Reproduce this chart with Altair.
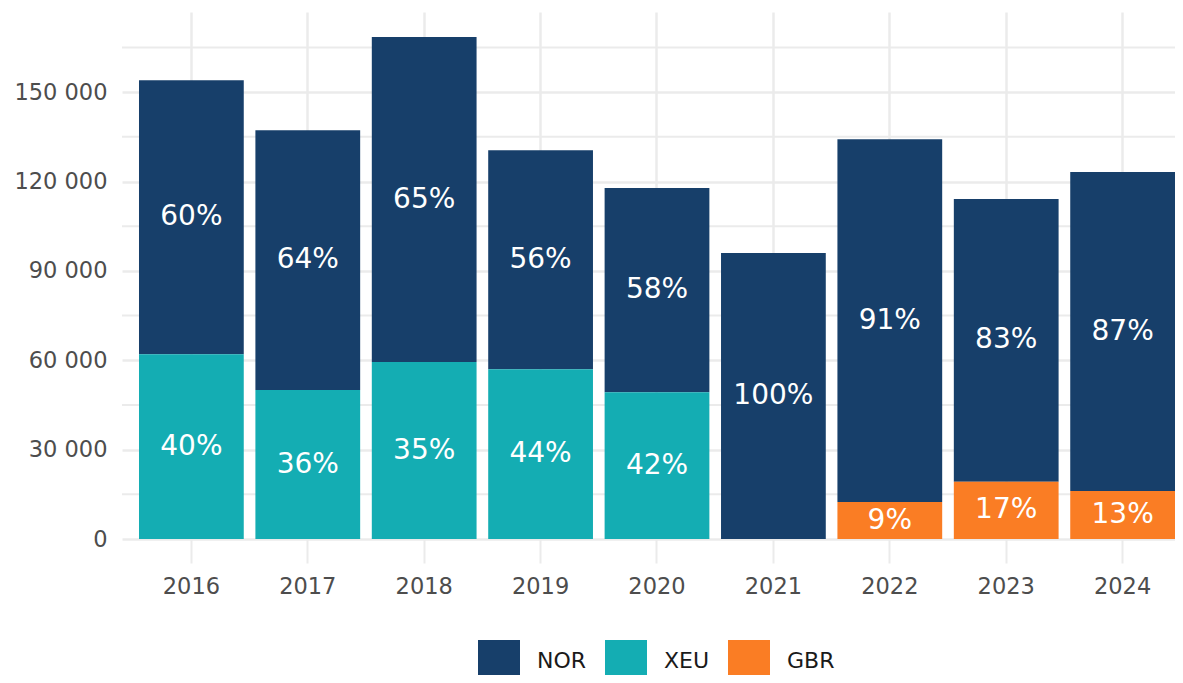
import altair as alt
import pandas as pd

years = ["2016", "2017", "2018", "2019", "2020", "2021", "2022", "2023", "2024"]
nor = [92000, 87200, 109100, 73500, 68500, 96000, 121800, 94900, 107100]
xeu = [62000, 50000, 59400, 57000, 49300, 0, 0, 0, 0]
gbr = [0, 0, 0, 0, 0, 0, 12400, 19200, 16100]

series = ["NOR", "XEU", "GBR"]
colors = ["#173F6A", "#14ADB3", "#FA7D24"]
stack_order = {"NOR": 2, "XEU": 1, "GBR": 1}

y_major = [0, 30000, 60000, 90000, 120000, 150000]
y_minor = [15000, 45000, 75000, 105000, 135000, 165000]

rows = []
for i, yr in enumerate(years):
    for name, vals in (("NOR", nor), ("XEU", xeu), ("GBR", gbr)):
        rows.append({"year": yr, "series": name, "value": vals[i], "ord": stack_order[name]})
df = pd.DataFrame(rows)

grid_col = "#EBEBEB"
y_scale = alt.Scale(domain=[0, 176900], nice=False, zero=True)
x_scale = alt.Scale(paddingInner=0.1, paddingOuter=0.073, align=1)

y_axis = alt.Axis(
    title=None,
    values=y_major,
    labelExpr="datum.value == 0 ? '0' : floor(datum.value / 1000) + ' 000'",
)

minor = alt.Chart(pd.DataFrame({"v": y_minor})).mark_rule(
    color=grid_col, strokeWidth=2
).encode(y=alt.Y("v:Q", scale=y_scale, axis=y_axis))

base = (
    alt.Chart(df)
    .transform_filter("datum.value > 0")
    .transform_joinaggregate(total="sum(value)", groupby=["year"])
    .transform_stack(
        stack="value",
        groupby=["year"],
        as_=["y0", "y1"],
        sort=[alt.SortField("ord", order="ascending")],
    )
    .transform_calculate(
        mid="(datum.y0 + datum.y1) / 2",
        lab="format(datum.value / datum.total, '.0%')",
    )
)

x_enc = alt.X("year:N", sort=years, scale=x_scale, axis=alt.Axis(title=None))

bars = base.mark_bar().encode(
    x=x_enc,
    y=alt.Y("y0:Q", scale=y_scale, axis=y_axis),
    y2="y1:Q",
    color=alt.Color(
        "series:N",
        scale=alt.Scale(domain=series, range=colors),
        legend=alt.Legend(
            title=None,
            orient="none",
            legendX=356,
            legendY=628,
            direction="horizontal",
            symbolType="square",
            symbolSize=1764,
            symbolStrokeWidth=0,
            symbolOpacity=1,
            labelFontSize=22,
            labelColor="#1A1A1A",
            labelOffset=17,
            columnPadding=18,
        ),
    ),
)

labels = base.mark_text(
    color="white", fontSize=28, baseline="middle", align="center"
).encode(
    x=x_enc,
    y=alt.Y("mid:Q", scale=y_scale, axis=y_axis),
    text="lab:N",
)

chart = (
    alt.layer(minor, bars, labels)
    .properties(
        width=1053,
        height=527,
        autosize=alt.AutoSizeParams(type="none"),
        padding={"left": 114, "top": 4, "right": 0, "bottom": 136},
    )
    .configure(font="DejaVu Sans")
    .configure_view(stroke=None)
    .configure_axisX(
        labelAngle=0,
        labelFontSize=22.5,
        labelColor="#4D4D4D",
        labelPadding=12,
        domain=False,
        grid=True,
        gridColor=grid_col,
        gridWidth=2.5,
        ticks=True,
        tickSize=24,
        tickWidth=2,
        tickColor=grid_col,
        bandPosition=0.5,
    )
    .configure_axisY(
        labelFontSize=22.5,
        labelColor="#4D4D4D",
        labelPadding=15,
        domain=False,
        ticks=False,
        grid=True,
        gridColor=grid_col,
        gridWidth=2.5,
    )
)

chart.save("out.html", embed_options={"renderer": "svg", "actions": False})
